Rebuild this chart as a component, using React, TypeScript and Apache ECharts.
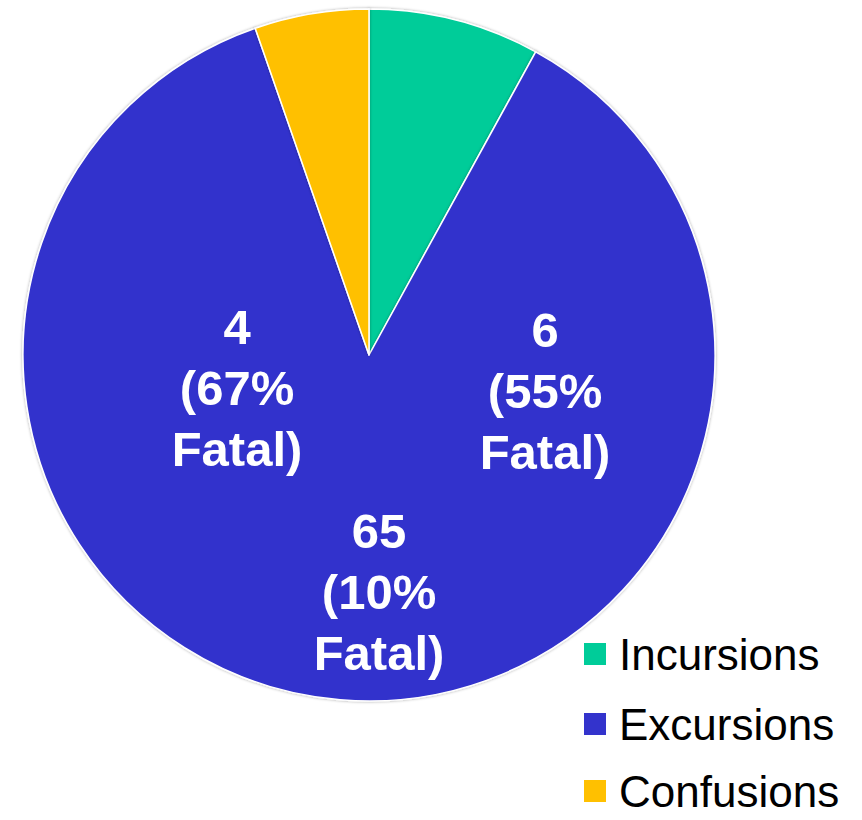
import React, { useEffect, useRef } from "react";
import * as echarts from "echarts";

const categories = ["Incursions", "Excursions", "Confusions"];
const counts = [6, 65, 4];
const fatalPct = [55, 10, 67];
const colors = ["#00CC99", "#3333CC", "#FFC000"];

// label anchor positions (px) for each category, in order
const labelAnchors: [number, number][] = [
  [545, 391],
  [379, 592],
  [237, 388],
];
// legend row centres (px)
const legendRowY = [655, 725, 792];

export default function App() {
  const ref = useRef<HTMLDivElement>(null);
  useEffect(() => {
    if (!ref.current) return;
    const chart = echarts.init(ref.current, undefined, { renderer: "svg" });
    chart.setOption({
      animation: false,
      backgroundColor: "#ffffff",
      color: colors,
      legend: categories.map((name, i) => ({
        orient: "vertical",
        left: 582,
        top: legendRowY[i] - 23,
        padding: 0,
        icon: "rect",
        itemWidth: 24,
        itemHeight: 24,
        data: [name],
        textStyle: {
          fontFamily: "Liberation Sans, Arial, sans-serif",
          fontSize: 44,
          color: "#000000",
          padding: [0, 0, 0, 7],
        },
      })),
      series: [
        {
          type: "pie",
          center: [369, 355],
          radius: [0, 346],
          startAngle: 90,
          clockwise: true,
          avoidLabelOverlap: false,
          itemStyle: {
            borderColor: "#ffffff",
            borderWidth: 1.5,
            shadowBlur: 3,
            shadowColor: "rgba(0,0,0,0.35)",
          },
          label: {
            show: true,
            position: "inside",
            color: "#ffffff",
            fontFamily: "Liberation Sans, Arial, sans-serif",
            fontWeight: "bold",
            fontSize: 49,
            lineHeight: 61,
            align: "center",
            formatter: (p: any) =>
              `${counts[p.dataIndex]}\n(${fatalPct[p.dataIndex]}%\nFatal)`,
          },
          labelLine: { show: false },
          labelLayout: (p: any) => ({
            x: labelAnchors[p.dataIndex][0],
            y: labelAnchors[p.dataIndex][1],
            align: "center",
            verticalAlign: "middle",
          }),
          emphasis: { disabled: true },
          data: categories.map((name, i) => ({ name, value: counts[i] })),
        },
      ],
    });
    return () => chart.dispose();
  }, []);
  return (
    <div
      ref={ref}
      style={{ position: "fixed", left: 0, top: 0, width: 862, height: 820 }}
    />
  );
}
